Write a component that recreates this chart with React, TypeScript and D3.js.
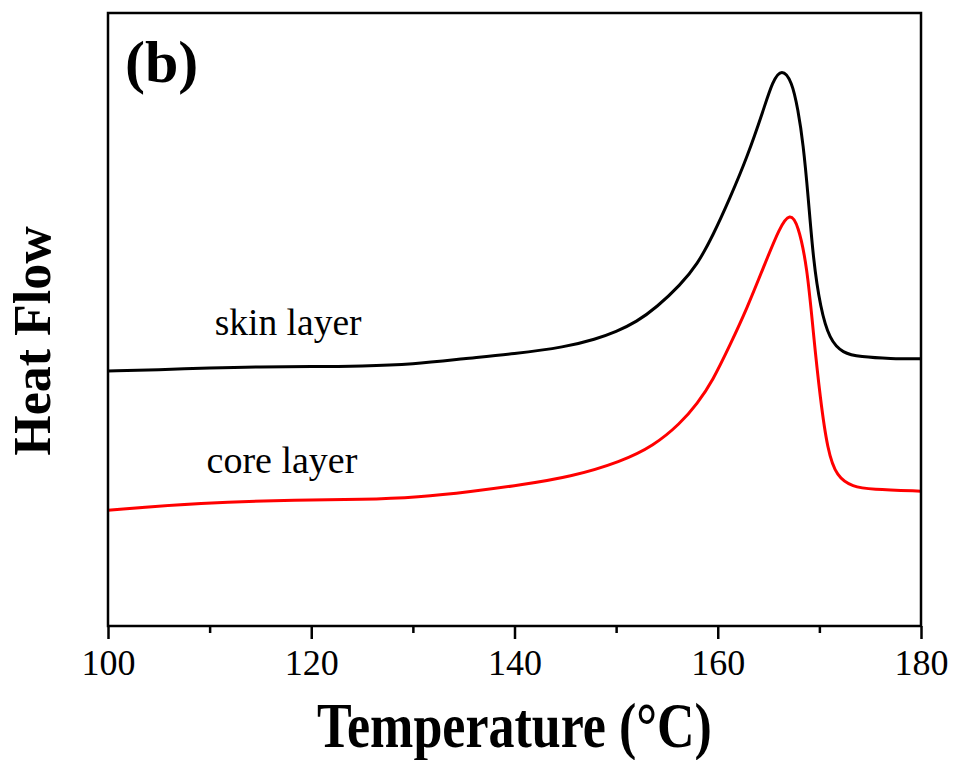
import React, { useRef, useEffect } from "react";
import * as d3 from "d3";

// DSC melting curves, heat flow in arbitrary units (endo up)
const skinTemp = [100, 105, 110, 115, 120, 125, 130, 135, 140, 145, 148, 150, 152, 154, 156.3, 158, 159.5, 161.2, 162.9, 164.5, 165.4, 166.3, 167.3, 167.9, 168.4, 168.9, 169.4, 170.1, 171, 172.3, 174, 177, 180];
const skinFlow = [41.6, 41.8, 42.1, 42.3, 42.3, 42.4, 42.7, 43.6, 44.4, 45.5, 46.8, 48.0, 49.6, 52.0, 55.6, 59.0, 63.6, 69.8, 76.5, 84.2, 88.9, 91.0, 88.9, 84.2, 78.8, 70.1, 59.7, 51.9, 46.7, 44.5, 43.9, 43.6, 43.6];

const coreTemp = [100, 109, 119, 125, 130.6, 135.7, 140.6, 145.5, 150.5, 153.7, 156.3, 158, 159.5, 161.2, 162.9, 164.5, 166.1, 167.1, 167.9, 168.8, 169.4, 170.1, 170.8, 171.7, 173.3, 175, 180];
const coreFlow = [18.9, 20.1, 20.6, 20.6, 21.0, 21.9, 23.0, 24.3, 26.8, 29.4, 33.0, 36.3, 40.0, 45.8, 51.9, 58.5, 65.1, 67.4, 65.6, 58.6, 47.8, 36.9, 28.7, 24.3, 22.7, 22.3, 22.0];

const xTicks = [100, 120, 140, 160, 180];
const xMinorTicks = [110, 130, 150, 170];

const seriesNames = ["skin layer", "core layer"];
const seriesColors = ["#000000", "#ff0000"];

const App = () => {
  const svgRef = useRef<SVGSVGElement>(null);

  useEffect(() => {
    document.body.style.margin = "0";
    const svg = d3.select(svgRef.current);
    svg.selectAll("*").remove();

    const width = 955;
    const height = 760;
    const margin = { top: 13, right: 34, bottom: 134, left: 108 };
    const innerWidth = width - margin.left - margin.right;
    const innerHeight = height - margin.top - margin.bottom;
    const serif = "'Liberation Serif', 'Times New Roman', serif";

    svg.attr("viewBox", `0 0 ${width} ${height}`);
    svg.append("rect").attr("width", width).attr("height", height).attr("fill", "#fff");

    const xScale = d3.scaleLinear().domain([100, 180]).range([0, innerWidth]);
    const yScale = d3.scaleLinear().domain([0, 100]).range([innerHeight, 0]);

    const g = svg.append("g").attr("transform", `translate(${margin.left}, ${margin.top})`);

    const series = [
      { name: seriesNames[0], color: seriesColors[0], data: skinTemp.map((t, i) => [t, skinFlow[i]]) },
      { name: seriesNames[1], color: seriesColors[1], data: coreTemp.map((t, i) => [t, coreFlow[i]]) },
    ];

    const line = d3.line<number[]>()
      .x(d => xScale(d[0]))
      .y(d => yScale(d[1]))
      .curve(d3.curveBasis);

    g.selectAll(".curve")
      .data(series)
      .enter()
      .append("path")
      .attr("class", "curve")
      .attr("d", d => line(d.data))
      .attr("fill", "none")
      .attr("stroke", d => d.color)
      .attr("stroke-width", 3)
      .attr("stroke-linejoin", "round");

    // frame
    g.append("rect")
      .attr("width", innerWidth)
      .attr("height", innerHeight)
      .attr("fill", "none")
      .attr("stroke", "#000")
      .attr("stroke-width", 2.5);

    const xAxis = g.append("g")
      .attr("transform", `translate(0, ${innerHeight})`)
      .call(d3.axisBottom(xScale).tickValues(xTicks).tickSize(13).tickPadding(10).tickFormat(d3.format("d")));
    xAxis.select(".domain").remove();
    xAxis.selectAll("line").attr("stroke-width", 2.5);
    xAxis.selectAll("text")
      .attr("fill", "#000")
      .style("font-family", serif)
      .style("font-size", "36px");

    const minor = g.append("g")
      .attr("transform", `translate(0, ${innerHeight})`)
      .call(d3.axisBottom(xScale).tickValues(xMinorTicks).tickSize(7).tickFormat(() => ""));
    minor.select(".domain").remove();
    minor.selectAll("line").attr("stroke-width", 2.5);

    // curve labels
    g.append("text")
      .attr("x", xScale(110.5))
      .attr("y", 322)
      .attr("font-family", serif)
      .attr("font-size", 37.5)
      .text(series[0].name);
    g.append("text")
      .attr("x", xScale(109.7))
      .attr("y", 460)
      .attr("font-family", serif)
      .attr("font-size", 38)
      .text(series[1].name);

    // panel letter
    svg.append("text")
      .attr("x", 125)
      .attr("y", 82)
      .attr("font-family", serif)
      .attr("font-weight", "bold")
      .attr("font-size", 60)
      .text("(b)");

    // axis titles
    svg.append("text")
      .attr("transform", `translate(${margin.left + innerWidth / 2}, 747) scale(1, 1.22)`)
      .attr("text-anchor", "middle")
      .attr("font-family", serif)
      .attr("font-weight", "bold")
      .attr("font-size", 52)
      .text("Temperature (°C)");

    svg.append("text")
      .attr("transform", `translate(50, 341) rotate(-90)`)
      .attr("text-anchor", "middle")
      .attr("font-family", serif)
      .attr("font-weight", "bold")
      .attr("font-size", 52)
      .text("Heat Flow");
  }, []);

  return <svg ref={svgRef} width={955} height={760} style={{ display: "block" }}></svg>;
};

export default App;
